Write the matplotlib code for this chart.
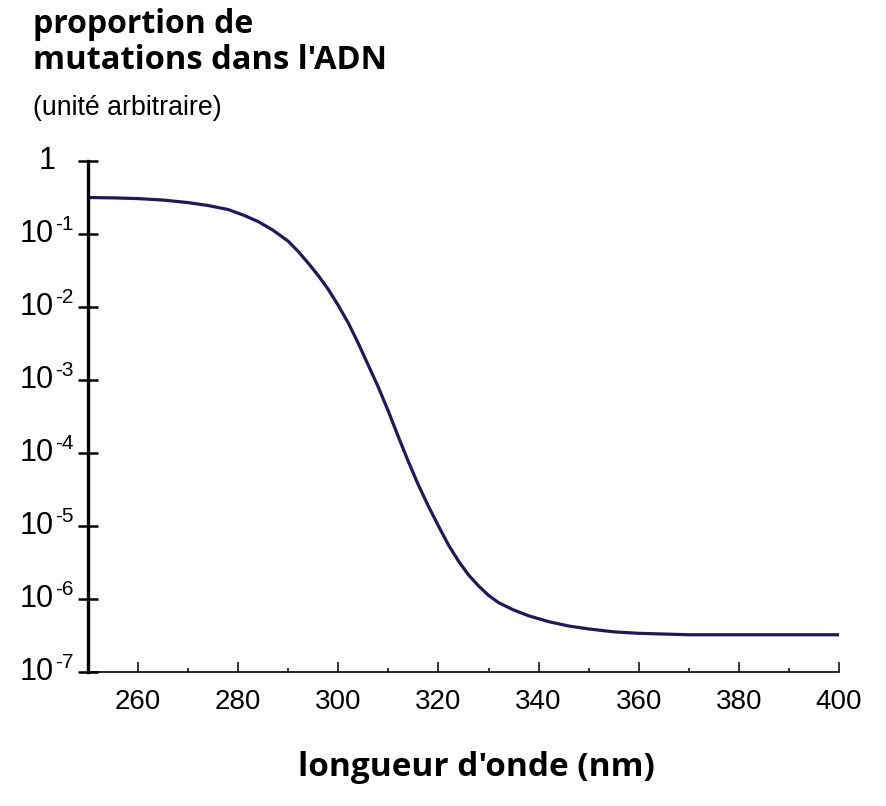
import matplotlib
matplotlib.use("Agg")
import numpy as np
import matplotlib.pyplot as plt
from matplotlib.ticker import FixedLocator, NullLocator, NullFormatter

# Data (log10 of the arbitrary-unit proportion)
wavelength_nm = [250, 255, 260, 265, 270, 274, 278, 281, 284, 287, 290, 292,
                 294, 296, 298, 300, 302, 304, 306, 308, 310, 312, 314, 316,
                 318, 320, 322, 324, 326, 328, 330, 332, 335, 338, 342, 346,
                 350, 355, 360, 370, 380, 390, 400]
log10_proportion = [-0.50, -0.505, -0.515, -0.535, -0.57, -0.61, -0.665, -0.74,
                    -0.83, -0.95, -1.10, -1.24, -1.40, -1.57, -1.76, -1.98,
                    -2.22, -2.50, -2.80, -3.10, -3.43, -3.78, -4.12, -4.44,
                    -4.73, -5.00, -5.26, -5.48, -5.67, -5.82, -5.95, -6.05,
                    -6.15, -6.23, -6.31, -6.37, -6.41, -6.45, -6.47, -6.49,
                    -6.49, -6.49, -6.49]
x_ticks = [260, 280, 300, 320, 340, 360, 380, 400]
x_minor = [270, 290, 310, 330, 350, 370, 390]
y_ticks = [1e-7, 1e-6, 1e-5, 1e-4, 1e-3, 1e-2, 1e-1, 1]
y_exponents = ["-7", "-6", "-5", "-4", "-3", "-2", "-1", None]

mutation_prop = 10.0 ** np.array(log10_proportion)

W, H = 886, 806
fig = plt.figure(figsize=(W / 100, H / 100), dpi=100)
L, R, B, T = 88, 839, 672, 161
ax = fig.add_axes([L / W, 1 - B / H, (R - L) / W, (B - T) / H])

ax.plot(wavelength_nm, mutation_prop, color="#1c1a5a", lw=2.3,
        solid_capstyle="butt", solid_joinstyle="round")
ax.set_yscale("log")
ax.set_xlim(250, 400)
ax.set_ylim(1e-7, 1)

for s in ("top", "right"):
    ax.spines[s].set_visible(False)
ax.spines["left"].set_linewidth(2.4)
ax.spines["bottom"].set_linewidth(1.2)

fam = ["Liberation Sans", "DejaVu Sans"]
ax.xaxis.set_major_locator(FixedLocator(x_ticks))
ax.xaxis.set_minor_locator(FixedLocator(x_minor))
ax.tick_params(axis="x", which="major", direction="in", length=7, width=1.1,
               pad=12, labelsize=20)
ax.tick_params(axis="x", which="minor", direction="in", length=3, width=1.1)
for lab in ax.get_xticklabels():
    lab.set_family(fam)

ax.yaxis.set_major_locator(FixedLocator(y_ticks))
ax.yaxis.set_minor_locator(NullLocator())
ax.yaxis.set_major_formatter(NullFormatter())
ax.tick_params(axis="y", which="major", direction="inout", length=15, width=1.8)

ytr = ax.get_yaxis_transform()
for v, e in zip(y_ticks, y_exponents):
    if e is None:
        ax.text(-(88 - 56) / (R - L), v, "1", transform=ytr, ha="right",
                va="center", fontsize=22, family=fam)
    else:
        ax.text(-(88 - 54) / (R - L), v, "10", transform=ytr, ha="right",
                va="center", fontsize=22, family=fam)
        ax.text(-(88 - 55) / (R - L), v, e, transform=ytr, ha="left",
                va="bottom", fontsize=15, family=fam)

bold_fam = ["Open Sans", "DejaVu Sans"]
fig.text(33 / W, 1 - 33 / H, "proportion de", fontsize=23,
         fontweight="bold", family=bold_fam, ha="left", va="baseline")
fig.text(33 / W, 1 - 69 / H, "mutations dans l'ADN", fontsize=23.5,
         fontweight="bold", family=bold_fam, ha="left", va="baseline")
fig.text(33 / W, 1 - 115 / H, "(unité arbitraire)", fontsize=19.3,
         family=fam, ha="left", va="baseline")
fig.text(476 / W, 1 - 776 / H, "longueur d'onde (nm)", fontsize=24,
         fontweight="bold", family=bold_fam, ha="center", va="baseline")

fig.savefig("out.png", dpi=100, facecolor="white")
